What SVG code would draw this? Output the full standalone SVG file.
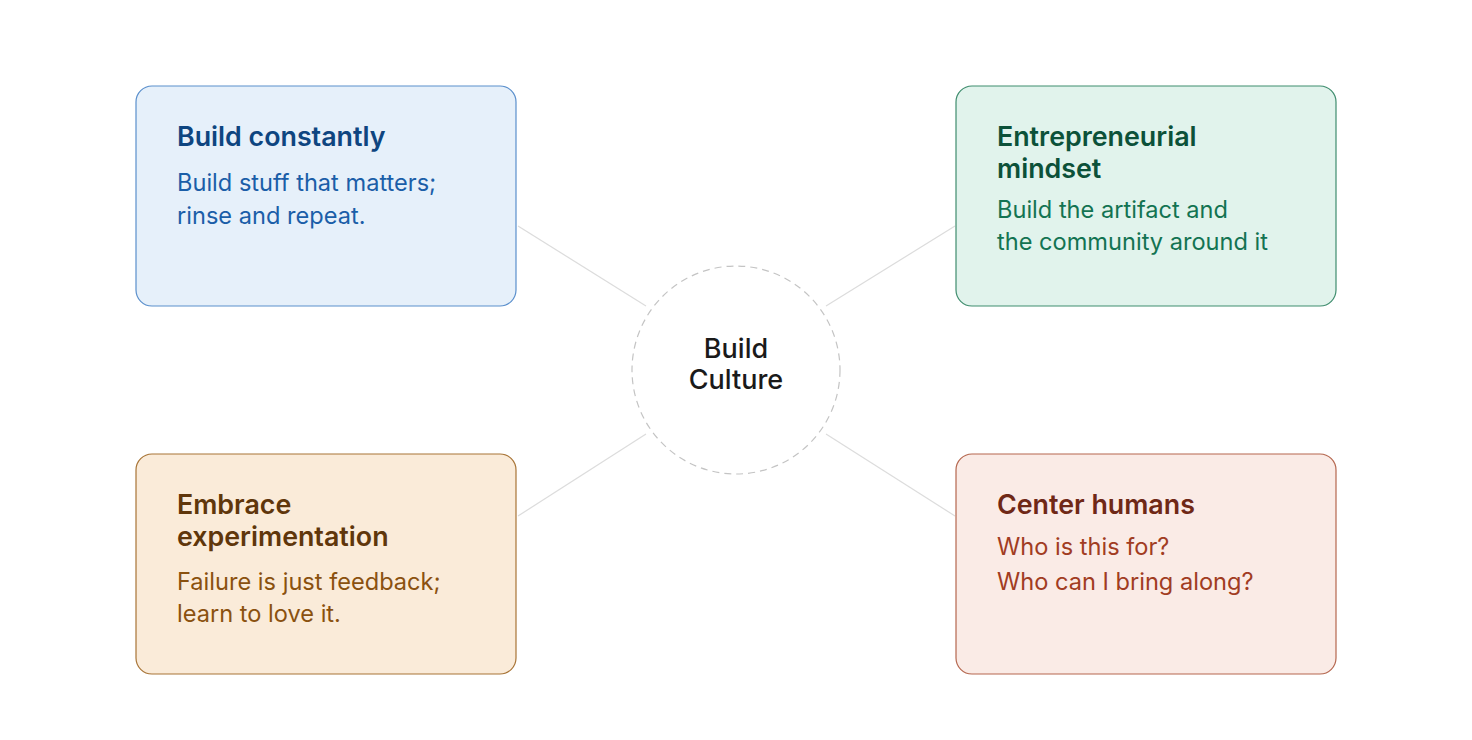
<svg xmlns="http://www.w3.org/2000/svg" width="1472" height="740" viewBox="0 0 1472 740">
<style>
text{font-family:Inter,"Noto Sans","Liberation Sans",sans-serif}
.t{font-size:26.8px;font-weight:600}
.b{font-size:23.6px;font-weight:400}
.box{stroke-width:1.2}
.conn{stroke:#dcdcdc;stroke-width:1.2;fill:none}
</style>
<rect width="1472" height="740" fill="#ffffff"/>
<g id="connectors">
<line class="conn" x1="518" y1="226" x2="646" y2="306"/>
<line class="conn" x1="826" y1="306" x2="955" y2="226"/>
<line class="conn" x1="518" y1="516" x2="646" y2="434"/>
<line class="conn" x1="826" y1="434" x2="955" y2="516"/>
</g>
<g id="center">
<circle cx="736" cy="370" r="104" fill="#ffffff" stroke="#c4c4c4" stroke-width="1.2" stroke-dasharray="7 5"/>
<text x="736" y="358" text-anchor="middle" font-size="27" font-weight="500" fill="#1a1a1a">Build</text>
<text x="736" y="389" text-anchor="middle" font-size="27" font-weight="500" fill="#1a1a1a">Culture</text>
</g>
<g id="build-constantly">
<rect class="box" x="136" y="86" width="380" height="220" rx="16" fill="#e6f0fa" stroke="#5a8fcc"/>
<text class="t" x="177" y="146" fill="#0e4580">Build constantly</text>
<text class="b" x="177" y="191" fill="#1b5ea8">Build stuff that matters;</text>
<text class="b" x="177" y="224" fill="#1b5ea8">rinse and repeat.</text>
</g>
<g id="entrepreneurial-mindset">
<rect class="box" x="956" y="86" width="380" height="220" rx="16" fill="#e1f3ec" stroke="#3f8d6e"/>
<text class="t" x="997" y="146" fill="#0c5139">Entrepreneurial</text>
<text class="t" x="997" y="178" fill="#0c5139">mindset</text>
<text class="b" x="997" y="218" fill="#137352">Build the artifact and</text>
<text class="b" x="997" y="250" fill="#137352">the community around it</text>
</g>
<g id="embrace-experimentation">
<rect class="box" x="136" y="454" width="380" height="220" rx="16" fill="#faebd9" stroke="#a87436"/>
<text class="t" x="177" y="514" fill="#5f360b">Embrace</text>
<text class="t" x="177" y="546" fill="#5f360b">experimentation</text>
<text class="b" x="177" y="590" fill="#8a510f">Failure is just feedback;</text>
<text class="b" x="177" y="622" fill="#8a510f">learn to love it.</text>
</g>
<g id="center-humans">
<rect class="box" x="956" y="454" width="380" height="220" rx="16" fill="#faebe6" stroke="#b5674f"/>
<text class="t" x="997" y="514" fill="#6f2816">Center humans</text>
<text class="b" x="997" y="555" fill="#a13c22">Who is this for?</text>
<text class="b" x="997" y="590" fill="#a13c22">Who can I bring along?</text>
</g>
</svg>
